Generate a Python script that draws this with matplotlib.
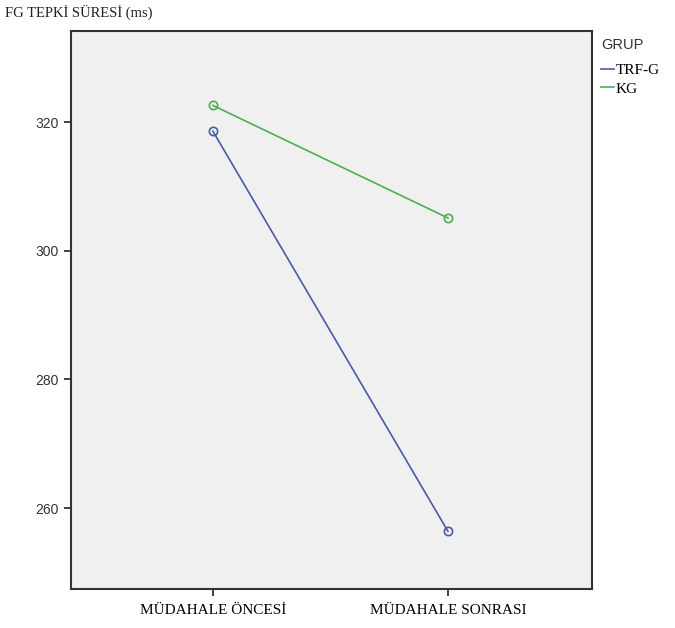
import matplotlib

matplotlib.use("Agg")
import matplotlib.pyplot as plt

# estimated marginal means
PHASES = ["MÜDAHALE ÖNCESİ", "MÜDAHALE SONRASI"]
TRF_G = [318.6, 256.4]
KG = [322.6, 305.1]
GROUPS = [("TRF-G", TRF_G, "#4a5aa8"), ("KG", KG, "#4caf50")]
Y_TICKS = [260, 280, 300, 320]

SERIF = "Liberation Serif"
SANS = "Liberation Sans"

fig = plt.figure(figsize=(6.75, 6.28), dpi=100)
ax = fig.add_axes([0.105, 0.062, 0.772, 0.889])
ax.set_facecolor("#f0f0f0")

x = list(range(len(PHASES)))
for name, vals, col in GROUPS:
    ax.plot(x, vals, color=col, lw=1.2, marker="o", ms=6,
            mfc="none", mec=col, mew=1.2, label=name)

ax.set_xlim(-0.604, 1.613)
ax.set_ylim(247.4, 334.2)
ax.set_yticks(Y_TICKS)
ax.set_yticklabels([str(v) for v in Y_TICKS], fontsize=10, family=SANS,
                   color="#333333")
ax.set_xticks(x)
ax.set_xticklabels(PHASES, fontsize=11, family=SERIF)
ax.tick_params(direction="out", length=5, width=1.2, color="#222222")
ax.tick_params(axis="x", pad=6)
for s in ax.spines.values():
    s.set_color("#333333")
    s.set_linewidth(1.5)

fig.text(0.008, 0.981, "FG TEPKİ SÜRESİ (ms)", fontsize=10.5, family=SERIF,
         va="center", ha="left", color="#222222")

# legend drawn as SPSS does it, outside the frame on the right
fig.text(0.891, 0.928, "GRUP", fontsize=10.5, family=SANS, va="center",
         color="#333333")
leg = ax.legend(loc="upper left", bbox_to_anchor=(1.005, 0.952),
                frameon=False, handlelength=0.9, handletextpad=0.1,
                labelspacing=0.3, borderaxespad=0,
                prop={"family": SERIF, "size": 11})
for h in leg.legend_handles:
    h.set_marker("")

fig.savefig("out.png", dpi=100)
